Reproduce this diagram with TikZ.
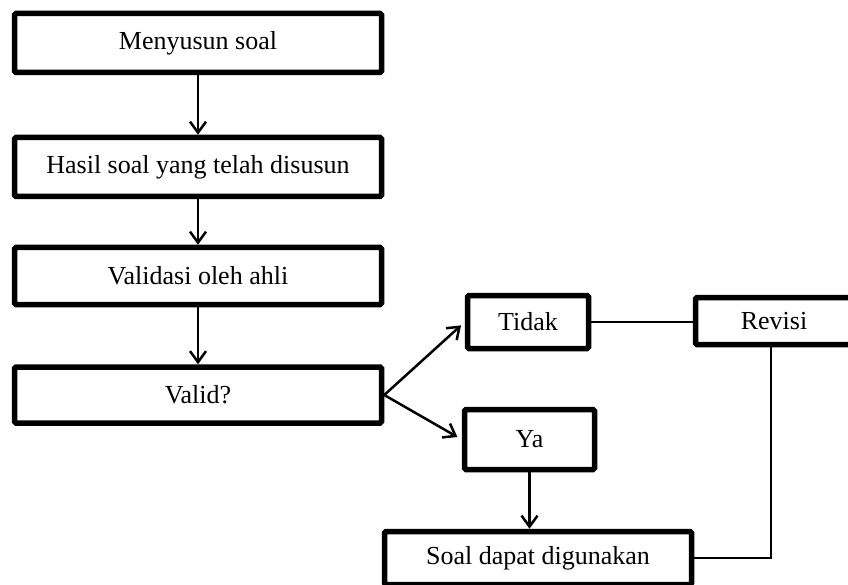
\documentclass[tikz,border=0pt]{standalone}
\usepackage{fontspec}
\setmainfont{Liberation Serif}
\usetikzlibrary{calc, arrows, positioning}
\usetikzlibrary{arrows.meta}

\begin{document}
\begin{tikzpicture}[x=1pt, y=-1pt,
    kotak/.style={draw, line width=5.5pt, rounded corners=1.5pt, inner sep=0pt,
        font=\fontsize{26}{30}\selectfont},
    panah/.style={line width=2.5pt, -{Straight Barb[length=11pt,width=16pt,line width=2.5pt]}},
    garis/.style={line width=1.5pt}]
    \newcommand{\kolomX}{198}
    \newcommand{\kolomW}{367}
    \clip (0,0) rectangle (848,585);
    \node[kotak, minimum width=\kolomW, minimum height=59] (nSusun) at (\kolomX,43) {Menyusun soal};
    \node[kotak, minimum width=\kolomW, minimum height=59] (nHasil) at (\kolomX,167) {Hasil soal yang telah disusun};
    \node[kotak, minimum width=\kolomW, minimum height=57] (nValidasi) at (\kolomX,276) {Validasi oleh ahli};
    \node[kotak, minimum width=\kolomW, minimum height=56] (nValid) at (\kolomX,395) {Valid?};
    \node[kotak, minimum width=121, minimum height=53] (nTidak) at (528,322) {Tidak};
    \node[kotak, minimum width=157, minimum height=47] (nRevisi) at (774,321) {Revisi};
    \node[kotak, minimum width=130, minimum height=60] (nYa) at (529.5,439.5) {Ya};
    \node[kotak, minimum width=307, minimum height=53] (nSoal) at (538,558) {Soal dapat digunakan};
    \foreach \a/\b in {nSusun/nHasil, nHasil/nValidasi, nValidasi/nValid}
    {
        \draw[panah] (\a) -- (\b);
    };
    \draw[panah, shorten >=5pt] (nValid.east) -- (nTidak.west);
    \draw[panah, shorten >=5pt] (nValid.east) -- (nYa.west);
    \draw[panah] (nYa.south) -- (nYa.south |- nSoal.north);
    \draw[garis] (nTidak.east) -- (nTidak.east -| nRevisi.west);
    \draw[garis] ([xshift=-3pt]nRevisi.south) |- (nSoal.east);
\end{tikzpicture}
\end{document}
